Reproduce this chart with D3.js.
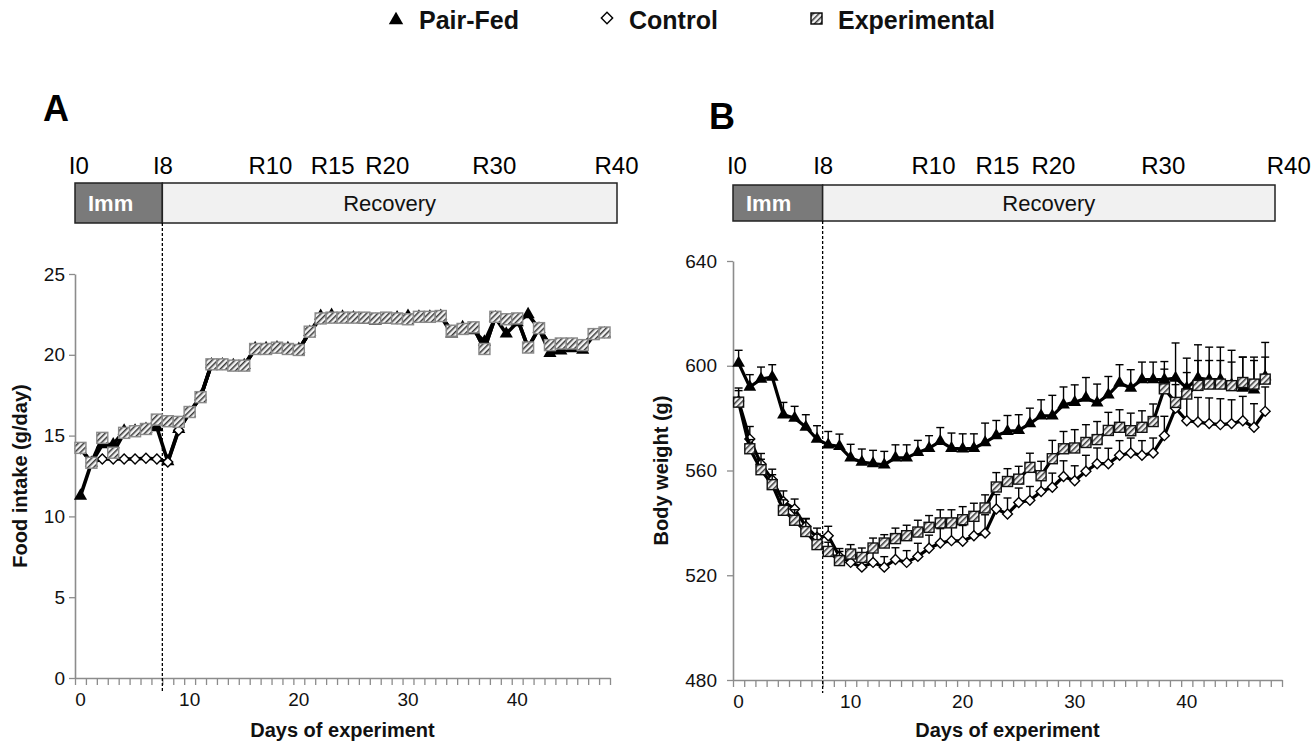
<!DOCTYPE html>
<html><head><meta charset="utf-8">
<script src="https://cdn.jsdelivr.net/npm/d3@7"></script>
<style>body{margin:0;background:#fff}svg{display:block}</style>
</head><body><svg id="chart"></svg>
<script>
// ---------- DATA ----------
const seriesNames = ["Pair-Fed", "Control", "Experimental"];
const intakeDays = [0,1,2,3,4,5,6,7,8,9,10,11,12,13,14,15,16,17,18,19,20,21,22,23,24,25,26,27,28,29,30,31,32,33,34,35,36,37,38,39,40,41,42,43,44,45,46,47,48];
const weightDays = [0,1,2,3,4,5,6,7,8,9,10,11,12,13,14,15,16,17,18,19,20,21,22,23,24,25,26,27,28,29,30,31,32,33,34,35,36,37,38,39,40,41,42,43,44,45,46,47];
const xTickLabels = [0,10,20,30,40];
const intakeTicks = [0,5,10,15,20,25];
const weightTicks = [480,520,560,600,640];
const phaseLabels = ["I0","I8","R10","R15","R20","R30","R40"];
const phaseNames = ["Imm","Recovery"];

// Panel A: food intake (g/day)
const pairFedIntake = [11.27,13.3,14.45,14.45,15.3,15.3,15.4,15.5,13.4,15.4, 16.4,17.4,19.4,19.4,19.35,19.35,20.4,20.4,20.45,20.4, 20.35,21.4,22.4,22.45,22.35,22.3,22.15,22.1,22.15,22.3, 22.4,22.35,22.35,22.4,21.3,21.7,21.5,20.8,22.3,21.3, 22.0,22.5,21.6,20.1,20.25,20.4,20.3,21.2,21.3];
const controlIntake = [14.2,13.35,13.55,13.55,13.55,13.55,13.6,13.55,13.36,15.33, 16.46,17.38,19.41,19.41,19.33,19.33,20.36,20.36,20.44,20.36, 20.3,21.43,22.25,22.3,22.3,22.3,22.3,22.25,22.3,22.25, 22.2,22.35,22.35,22.4,21.49,21.6,21.7,20.36,22.35,22.2, 22.25,20.45,21.65,20.6,20.7,20.7,20.6,21.28,21.38];
const expIntake = [14.24,13.32,14.86,13.94,15.17,15.27,15.41,15.99,15.89,15.85, 16.46,17.38,19.41,19.41,19.33,19.33,20.36,20.36,20.44,20.36, 20.3,21.43,22.25,22.3,22.3,22.3,22.3,22.25,22.3,22.25, 22.2,22.35,22.35,22.4,21.49,21.6,21.7,20.36,22.35,22.2, 22.25,20.45,21.65,20.6,20.7,20.7,20.6,21.28,21.38];

// Panel B: body weight (g) with upper error bars
const pairFedWeight = [601.0,591.9,594.9,595.7,581.3,580.0,576.6,572.0,569.8,569.2, 564.8,563.2,562.6,562.2,564.8,564.8,566.9,568.5,571.1,568.5, 568.3,568.5,570.7,573.3,575.0,575.3,577.9,580.9,580.9,585.1, 586.0,587.7,585.8,588.9,593.4,591.5,594.7,594.7,594.7,595.3, 591.5,595.3,594.7,594.7,592.7,591.5,590.8,595.9];
const pairFedErr = [4.9,4.7,4.6,4.7,4.7,4.5,4.7,5.1,5.1,4.7, 5.2,5.0,5.1,5.1,5.0,5.0,4.6,4.8,5.3,5.8, 5.7,5.5,7.4,5.8,6.0,6.0,5.9,6.1,7.8,6.8, 6.7,7.8,7.2,7.0,7.0,7.0,6.7,6.7,6.9,13.4, 11.4,12.7,12.4,12.4,13.2,11.8,12.5,13.0];
const controlWeight = [586.5,572.0,562.5,556.5,548.2,545.3,538.7,534.5,535.1,527.2, 524.9,523.1,524.9,523.1,526.0,524.9,527.2,530.3,532.3,533.2, 533.0,535.1,536.1,545.3,543.4,547.8,548.6,552.0,553.6,557.7, 556.1,559.7,562.6,562.6,565.8,566.7,565.8,566.7,573.3,583.8, 579.0,578.5,577.9,577.5,577.9,579.0,576.5,582.6];
const controlErr = [4.0,4.8,4.0,4.0,4.0,3.8,3.0,3.5,3.6,3.0, 3.5,3.5,4.0,4.0,4.5,4.5,5.0,5.0,5.5,6.5, 6.0,6.0,7.0,5.5,6.1,5.5,5.3,7.0,5.4,6.0, 5.7,6.1,6.0,5.9,5.6,5.7,5.6,5.7,7.4,9.0, 8.9,9.4,9.8,9.9,9.1,9.3,9.0,9.3];
const expWeight = [586.1,568.3,560.3,554.6,544.8,541.0,536.7,531.7,529.1,525.6, 528.1,526.8,530.4,532.3,534.0,535.1,536.5,538.3,540.0,540.0, 541.2,542.5,545.7,553.7,555.8,556.7,561.2,558.0,564.5,568.3, 568.6,570.7,571.8,575.3,576.5,575.2,576.5,578.7,591.2,586.0, 589.2,592.5,593.0,593.0,592.4,593.6,593.0,594.9];
const expErr = [5.4,3.5,4.0,3.8,4.0,4.0,4.8,4.0,3.5,3.5, 3.6,3.6,3.8,3.2,4.0,4.0,4.5,4.5,5.0,5.0, 5.0,5.0,5.0,5.5,4.9,4.9,5.4,5.5,7.0,6.6, 7.0,6.8,6.9,6.9,6.7,6.7,6.3,6.7,7.5,9.0, 8.2,9.5,9.0,9.0,9.0,9.7,9.0,8.4];

// ---------- DRAW ----------
const W = 1311, H = 746;
const FONT = '"Liberation Sans", Arial, Helvetica, sans-serif';
const AXC = '#8c8c8c';
const svg = d3.select('#chart').attr('width', W).attr('height', H)
  .style('font-family', FONT);

const defs = svg.append('defs');
const pat = defs.append('pattern').attr('id', 'hatch')
  .attr('patternUnits', 'userSpaceOnUse').attr('width', 4).attr('height', 4)
  .attr('patternTransform', 'rotate(45)');
pat.append('rect').attr('width', 4).attr('height', 4).attr('fill', '#f2f2f2');
pat.append('rect').attr('width', 1.5).attr('height', 4).attr('fill', '#3a3a3a');

// legend
const leg = svg.append('g');
leg.append('path').attr('d', d3.symbol(d3.symbolTriangle, 90)())
  .attr('transform', 'translate(396,20)').attr('fill', '#000');
leg.append('text').attr('x', 419).attr('y', 29).text(seriesNames[0]);
leg.append('rect').attr('x', -4).attr('y', -4).attr('width', 8).attr('height', 8)
  .attr('transform', 'translate(607,18) rotate(45)').attr('fill', '#fff')
  .attr('stroke', '#000').attr('stroke-width', 1.4);
leg.append('text').attr('x', 629).attr('y', 29).text(seriesNames[1]);
leg.append('rect').attr('x', 811).attr('y', 13).attr('width', 11).attr('height', 11)
  .attr('fill', 'url(#hatch)').attr('stroke', '#000').attr('stroke-width', 1.4);
leg.append('text').attr('x', 838).attr('y', 29).text(seriesNames[2]);
leg.selectAll('text').attr('font-size', 25).attr('font-weight', 'bold').attr('fill', '#111');

const headerPos = [0.35, 8.05, 17.9, 23.6, 28.6, 38.4, 49.6];

function drawPanel(o) {
  const g = svg.append('g');
  const x = d3.scaleBand().domain(o.days.concat(o.extraDays)).range([o.x0, o.x1]).padding(0);
  const n = x.domain().length;
  const xb = d3.scaleLinear().domain([0, n]).range([o.x0, o.x1]);
  const y = d3.scaleLinear().domain(o.yDomain).range([o.y0, o.y1]);
  const cx = d => x(d) + x.bandwidth() / 2;

  // panel letter
  g.append('text').attr('x', o.letterX).attr('y', o.letterY).text(o.letter)
    .attr('font-size', 36).attr('font-weight', 'bold').attr('fill', '#000');

  // header
  const hx = d3.scaleLinear().domain([0, n]).range([o.x0, o.x1]);
  g.append('g').selectAll('text').data(phaseLabels).join('text')
    .attr('x', (d, i) => hx(headerPos[i])).attr('y', o.hdrY)
    .attr('text-anchor', 'middle').attr('font-size', 24).attr('fill', '#000').text(d => d);
  g.append('rect').attr('x', o.x0).attr('y', o.boxY0).attr('width', xb(8) - o.x0)
    .attr('height', o.boxY1 - o.boxY0).attr('fill', '#7a7a7a').attr('stroke', '#222').attr('stroke-width', 1.5);
  g.append('rect').attr('x', xb(8)).attr('y', o.boxY0).attr('width', o.boxX1 - xb(8))
    .attr('height', o.boxY1 - o.boxY0).attr('fill', '#f1f1f1').attr('stroke', '#222').attr('stroke-width', 1.5);
  g.append('text').attr('x', o.x0 + 13).attr('y', (o.boxY0 + o.boxY1) / 2 + 8)
    .attr('font-size', 22).attr('font-weight', 'bold').attr('fill', '#fff').text(phaseNames[0]);
  g.append('text').attr('x', (xb(8) + o.boxX1) / 2).attr('y', (o.boxY0 + o.boxY1) / 2 + 8)
    .attr('text-anchor', 'middle').attr('font-size', 22).attr('fill', '#111').text(phaseNames[1]);

  // axes
  const ya = g.append('g').attr('transform', `translate(${o.x0},0)`)
    .call(d3.axisLeft(y).tickValues(o.yTicks).tickSize(6).tickSizeOuter(0).tickPadding(o.yPad));
  const xa = g.append('g').attr('transform', `translate(0,${o.y0})`)
    .call(d3.axisBottom(xb).tickValues(d3.range(n + 1)).tickSize(7).tickSizeOuter(0).tickFormat(''));
  const xl = g.append('g').attr('transform', `translate(0,${o.y0})`)
    .call(d3.axisBottom(x).tickValues(xTickLabels).tickSize(0).tickSizeOuter(0).tickPadding(15));
  xl.select('.domain').remove();
  [ya, xa].forEach(a => {
    a.select('.domain').attr('stroke', AXC).attr('stroke-width', 1.6);
    a.selectAll('.tick line').attr('stroke', AXC).attr('stroke-width', 1.3);
  });
  [ya, xl].forEach(a => a.selectAll('text').attr('font-size', 19).attr('fill', '#111')
    .style('font-family', FONT));

  // axis titles
  g.append('text').attr('x', (o.x0 + o.x1) / 2).attr('y', 737).attr('text-anchor', 'middle')
    .attr('font-size', 20).attr('font-weight', 'bold').attr('fill', '#111').text('Days of experiment');
  g.append('text').attr('transform', `translate(${o.yTitleX},${(o.y0 + o.y1) / 2}) rotate(-90)`)
    .attr('text-anchor', 'middle').attr('font-size', 20).attr('font-weight', 'bold')
    .attr('fill', '#111').text(o.yTitle);

  // dashed line
  g.append('line').attr('x1', xb(8)).attr('x2', xb(8)).attr('y1', o.boxY1).attr('y2', o.y0 + 13)
    .attr('stroke', '#000').attr('stroke-width', 1.3).attr('stroke-dasharray', '3,2');

  const plot = g.append('g');
  const line = d3.line().x(d => cx(d.d)).y(d => y(d.v));
  o.series.forEach(s => {
    const pts = o.days.map((d, i) => ({ d, v: s.values[i], e: s.err ? s.err[i] : 0 }));
    const sg = plot.append('g');
    if (s.err) {
      const eb = sg.append('g').attr('stroke', '#000').attr('stroke-width', 1.4);
      eb.selectAll('line.v').data(pts).join('line').attr('class', 'v')
        .attr('x1', d => cx(d.d)).attr('x2', d => cx(d.d))
        .attr('y1', d => y(d.v)).attr('y2', d => y(d.v + d.e));
      eb.selectAll('line.c').data(pts).join('line').attr('class', 'c')
        .attr('x1', d => cx(d.d) - 4).attr('x2', d => cx(d.d) + 4)
        .attr('y1', d => y(d.v + d.e)).attr('y2', d => y(d.v + d.e));
    }
    sg.append('path').datum(pts).attr('d', line).attr('fill', 'none')
      .attr('stroke', '#000').attr('stroke-width', o.lw).attr('stroke-linejoin', 'round');
    const m = sg.append('g');
    if (s.kind === 'tri') {
      m.selectAll('path').data(pts).join('path')
        .attr('d', d3.symbol(d3.symbolTriangle, o.triSize)())
        .attr('transform', d => `translate(${cx(d.d)},${y(d.v)})`).attr('fill', '#000');
    } else if (s.kind === 'dia') {
      const h = o.diaSide / 2;
      m.selectAll('rect').data(pts).join('rect')
        .attr('x', -h).attr('y', -h).attr('width', o.diaSide).attr('height', o.diaSide)
        .attr('transform', d => `translate(${cx(d.d)},${y(d.v)}) rotate(45)`)
        .attr('fill', '#fff').attr('stroke', '#000').attr('stroke-width', 1.4);
    } else {
      const h = o.sq / 2;
      m.selectAll('rect').data(pts).join('rect')
        .attr('x', d => cx(d.d) - h).attr('y', d => y(d.v) - h)
        .attr('width', o.sq).attr('height', o.sq)
        .attr('fill', 'url(#hatch)').attr('stroke', o.sqStroke).attr('stroke-width', 1.4);
    }
  });
}

drawPanel({
  letter: 'A', letterX: 43, letterY: 121,
  days: intakeDays, extraDays: [],
  x0: 75, x1: 610, y0: 678, y1: 274, yDomain: [0, 25], yTicks: intakeTicks, yPad: 4,
  boxX1: 617, boxY0: 183, boxY1: 223, hdrY: 174,
  yTitle: 'Food intake (g/day)', yTitleX: 27,
  lw: 3.6, triSize: 75, diaSide: 7, sq: 11, sqStroke: '#8a8a8a',
  series: [
    { values: pairFedIntake, kind: 'tri' },
    { values: controlIntake, kind: 'dia' },
    { values: expIntake, kind: 'sq' }
  ]
});

drawPanel({
  letter: 'B', letterX: 709, letterY: 129,
  days: weightDays, extraDays: [48],
  x0: 733, x1: 1282, y0: 680, y1: 261, yDomain: [480, 640], yTicks: weightTicks, yPad: 10,
  boxX1: 1275, boxY0: 185, boxY1: 221, hdrY: 174,
  yTitle: 'Body weight (g)', yTitleX: 668,
  lw: 3.2, triSize: 70, diaSide: 7, sq: 10, sqStroke: '#111',
  series: [
    { values: pairFedWeight, err: pairFedErr, kind: 'tri' },
    { values: controlWeight, err: controlErr, kind: 'dia' },
    { values: expWeight, err: expErr, kind: 'sq' }
  ]
});
</script>
</body></html>
